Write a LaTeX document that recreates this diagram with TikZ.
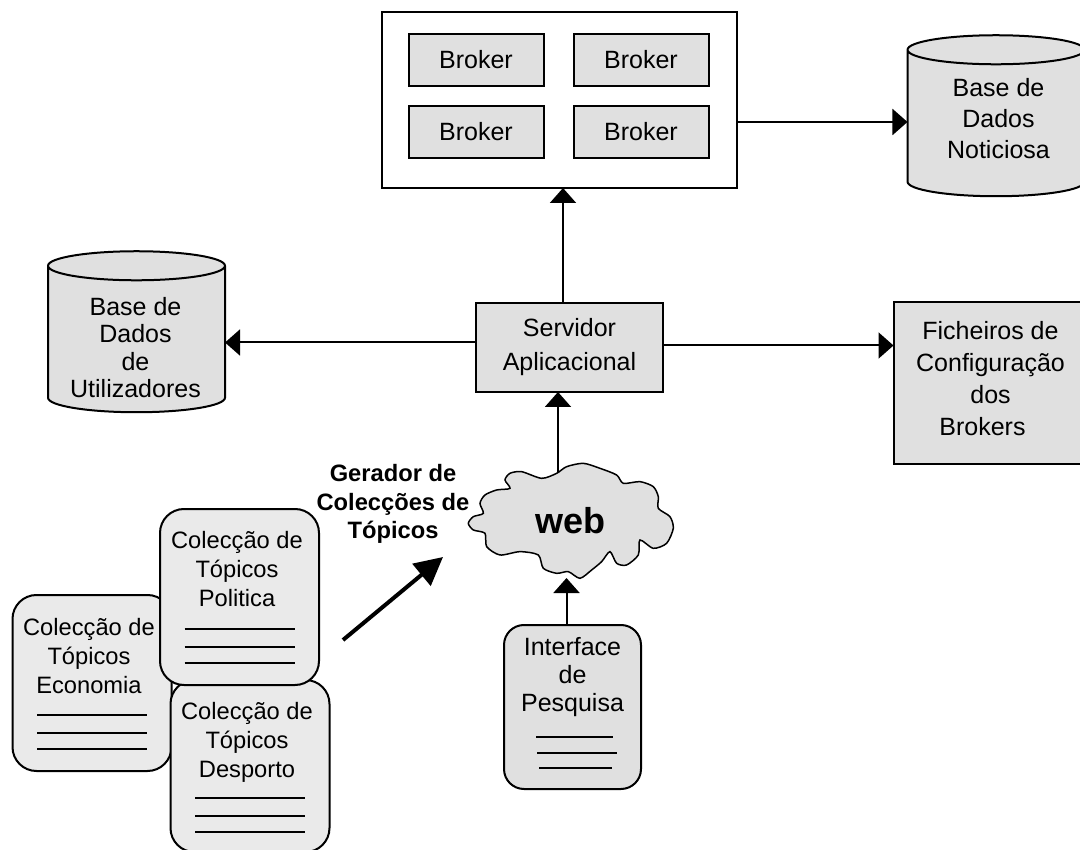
\documentclass[tikz,border=0pt]{standalone}
\usepackage{fontspec}
\setmainfont{Liberation Sans}
\usetikzlibrary{positioning,arrows.meta,shapes.geometric}
\definecolor{scrgray}{HTML}{E0E0E0}
\definecolor{colgray}{HTML}{EAEAEA}

\begin{document}
\begin{tikzpicture}
[x=1pt,y=1pt,line width=2pt,
 every node/.style={draw=black,line width=2pt,inner sep=0pt,outer sep=0pt,align=center},
 txt/.style={draw=none,font=\fontsize{25}{#1}\selectfont},
 srv/.style={rectangle,fill=scrgray},
 brk/.style={rectangle,fill=scrgray,minimum width=135pt,minimum height=52pt,txt=30,draw=black},
 db/.style={cylinder,shape border rotate=90,aspect=0.33,fill=scrgray,minimum width=177pt,minimum height=161pt},
 col/.style={rectangle,rounded corners=24pt,fill=colgray,minimum width=159pt,minimum height=176pt},
 coltxt/.style={draw=none,anchor=north,font=\fontsize{23.7}{29}\selectfont},
 lbl/.style={draw=none,font=\fontsize{23.7}{28.5}\selectfont\bfseries},
 rule/.style={line width=1.5pt},
 tip/.style={-{Triangle[length=15pt,width=26pt]}}]
\useasboundingbox (0,0) rectangle (1080,-850);

\node[srv,txt=34,draw=black,minimum width=187pt,minimum height=89pt] (servidor) at (569.5,-347.5) {Servidor\\Aplicacional};
\node[rectangle,fill=white,minimum width=355pt,minimum height=176pt] (brokers) [on grid,above left=247.5pt and 10pt of servidor] {};
\node[brk] (brkA) [on grid,above left=40pt and 83.5pt of brokers]  {Broker};
\node[brk] (brkB) [on grid,above right=40pt and 81.5pt of brokers] {Broker};
\node[brk] (brkC) [on grid,below left=32pt and 83.5pt of brokers]  {Broker};
\node[brk] (brkD) [on grid,below right=32pt and 81.5pt of brokers] {Broker};
\node[db] (noticias) [on grid,above right=224pt and 426.5pt of servidor] {\rule{88pt}{0pt}};
\node[txt=31] (noticiasT) [on grid,above right=229pt and 429pt of servidor] {Base de\\Dados\\Noticiosa};
\node[db] (users) [on grid,above left=8pt and 433pt of servidor] {\rule{88pt}{0pt}};
\node[txt=27.5] (usersT) [on grid,above left=0pt and 434pt of servidor] {Base de\\Dados\\de\\Utilizadores};
\node[srv,minimum width=200pt,minimum height=162pt] (config) [on grid,below right=36pt and 424pt of servidor] {};
\node[txt=32] (configT) [on grid,below right=31pt and 421pt of servidor] {Ficheiros de\\Configura\c{c}\~ao\\dos\\Brokers\hspace*{16pt}};

% web
\draw[fill=scrgray,line width=1.5pt,shift={(330,-380)},x=.3333pt,y=-.3333pt] plot[smooth cycle,tension=.45] coordinates {
  (415,430) (430,410) (460,400) (450,370) (465,345) (500,330) (540,325) (525,300) (540,280) (575,275) (635,295)
  (680,280) (710,260) (760,250) (810,265) (860,285) (880,310) (930,305) (970,320) (985,350) (985,385) (1020,410)
  (1030,445) (1010,490) (970,505) (930,480) (925,525) (890,555) (860,550) (840,515) (815,545) (785,570) (750,595)
  (715,575) (680,580) (640,565) (625,525) (570,515) (510,525) (470,500) (465,460) (430,450)};
\node[draw=none,minimum width=205pt,minimum height=115pt,font=\fontsize{36}{36}\selectfont\bfseries] (web) [on grid,below right=173pt and 1pt of servidor] {web};

\node[rectangle,rounded corners=20pt,fill=scrgray,minimum width=137pt,minimum height=164pt] (interface) [on grid,below right=186.5pt and 2pt of web] {};
\node[txt=28,anchor=north] (interfaceT) at ([yshift=-12pt]interface.north) {Interface\\de\\Pesquisa};

\node[col] (economia) at (92,-683) {};
\node[col,minimum height=172pt] (desporto) [on grid,below right=83pt and 158pt of economia] {};
\node[col] (politica) [on grid,above right=86pt and 147.5pt of economia] {};
\node[coltxt] (economiaT) at ([xshift=-3pt,yshift=-23pt]economia.north) {Colec\c{c}\~ao de\\T\'opicos\\Economia};
\node[coltxt] (desportoT) at ([xshift=-3pt,yshift=-22pt]desporto.north) {Colec\c{c}\~ao de\\T\'opicos\\Desporto};
\node[coltxt] (politicaT) at ([xshift=-2.5pt,yshift=-22pt]politica.north) {Colec\c{c}\~ao de\\T\'opicos\\Politica};

\node[lbl] (gerador) at (393,-504) {Gerador de\\Colec\c{c}\~oes de\\T\'opicos};
\coordinate (genA) at (343,-640);
\coordinate (genB) at (443,-557);

\draw[tip] ([xshift=-6.5pt]servidor.north) -- ([xshift=3.5pt]brokers.south);
\draw[tip] ([yshift=-22pt]brokers.east) -- ([yshift=1.5pt]noticias.west);
\draw[tip] ([yshift=5pt]servidor.west) -- ([yshift=-3pt]users.east);
\draw[tip] ([yshift=2pt]servidor.east) -- ([yshift=38pt]config.west);
\draw[tip] ([xshift=-12.5pt,yshift=-10pt]web.north) -- ([xshift=-11.5pt]servidor.south);
\draw[tip] ([xshift=-6pt]interface.north) -- ([xshift=-4pt]web.south);
\draw[line width=4pt,-{Triangle[length=28pt,width=28pt]}] (genA) -- (genB);

\foreach \nn in {economia,politica,desporto}
  \foreach \dy in {32,50,66}
    \draw[rule] ([xshift=-55pt,yshift=-\dy pt]\nn.center) -- ([xshift=55pt,yshift=-\dy pt]\nn.center);
\foreach \dy/\xa/\xb in {30/-36.5/40.5,46/-35.5/44.5,61/-33.5/39.5}
  \draw[rule] ([xshift=\xa pt,yshift=-\dy pt]interface.center) -- ([xshift=\xb pt,yshift=-\dy pt]interface.center);
\end{tikzpicture}
\end{document}
